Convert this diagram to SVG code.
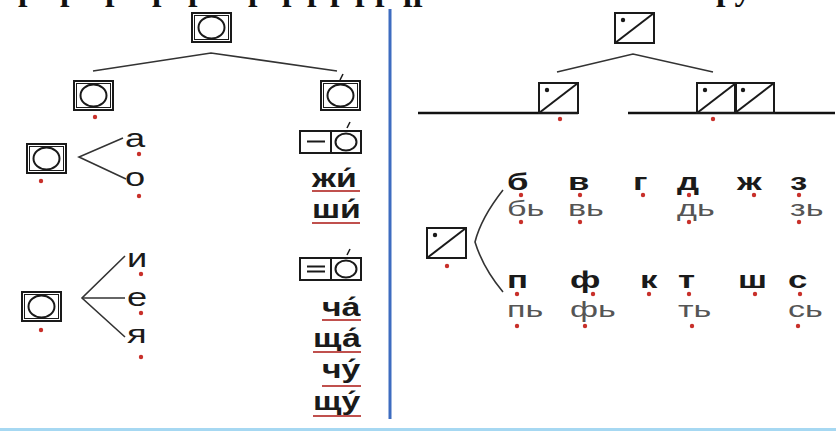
<svg xmlns="http://www.w3.org/2000/svg" width="836" height="432" viewBox="0 0 836 432">
<style>
  .ln{stroke:#333;stroke-width:1.6;fill:none}
  .base{stroke:#111;stroke-width:2.6;fill:none}
  .fr{fill:none;stroke:#1a1a1a;stroke-width:2}
  .thin{fill:none;stroke:#1a1a1a;stroke-width:1}
  .dot{fill:#c8302a}
  .ul{stroke:#c0504d;stroke-width:2}
  .t{font-family:"Liberation Sans",Arial,sans-serif;font-size:25px;fill:#1a1a1a}
  .b{font-weight:bold}
  .r1{font-size:24px}
  .soft{fill:#555;font-size:22px}
  .serif{font-family:"Liberation Serif","Times New Roman",serif;font-size:34px;font-weight:bold;fill:#111}
</style>
<defs>
  <g id="vowel">
    <rect x="0" y="0" width="39" height="29" class="fr"/>
    <rect x="2.5" y="2.5" width="34" height="24" class="thin"/>
    <ellipse cx="19.5" cy="14.5" rx="13" ry="11" class="fr"/>
  </g>
  <g id="cons">
    <rect x="0" y="0" width="39" height="30" class="fr"/>
    <line x1="0" y1="30" x2="39" y2="0" class="fr"/>
    <circle cx="8" cy="7" r="2.2" fill="#1a1a1a"/>
  </g>
  <circle id="rd" r="2.2" class="dot"/>
</defs>

<rect width="836" height="432" fill="#ffffff"/>

<!-- line of text above; only its descenders fall inside the page -->
<text class="serif" y="0" x="18 60 105 152 188 248 282 307 330 355 375 403 413 716">рррррррррррррру</text>

<!-- page frame lines -->
<line x1="390" y1="9" x2="390" y2="419" stroke="#3d6cc0" stroke-width="3"/>
<line x1="0" y1="429.5" x2="836" y2="429.5" stroke="#a6d8f2" stroke-width="3"/>

<g id="connectors">
  <!-- vowel tree -->
  <polyline class="ln" points="93,71 211,53 337,71"/>
  <polyline class="ln" points="123,138 79,157 126,179"/>
  <polyline class="ln" points="125,256 82,298 125,337"/>
  <line class="ln" x1="82" y1="298" x2="125" y2="298"/>
  <!-- consonant tree -->
  <polyline class="ln" points="557,72 633,54 713,72"/>
  <line class="base" x1="418" y1="113" x2="578" y2="113"/>
  <line class="base" x1="628" y1="113" x2="835" y2="113"/>
  <path class="ln" d="M503,190 Q481,218 475,242 Q483,268 503,292"/>
</g>

<!-- vowel side -->
<g id="vowel-root"><use href="#vowel" x="192" y="13"/></g>
<g id="vowel-hard">
  <use href="#vowel" x="74" y="81"/>
  <use href="#rd" x="95" y="117"/>
</g>
<g id="vowel-stressed">
  <use href="#vowel" x="321" y="81"/>
  <line x1="340" y1="80" x2="343" y2="74" stroke="#1a1a1a" stroke-width="1.6"/>
</g>

<g id="vowel-ao">
  <use href="#vowel" x="27" y="144"/>
  <use href="#rd" x="41" y="181"/>
  <text class="t" transform="translate(125,147) scale(1.45,1)">а</text>
  <use href="#rd" x="139" y="154"/>
  <text class="t" transform="translate(125,186) scale(1.45,1)">о</text>
  <use href="#rd" x="139" y="196"/>
</g>

<g id="vowel-iey">
  <use href="#vowel" x="22" y="292"/>
  <use href="#rd" x="41" y="330"/>
  <text class="t" transform="translate(127,267) scale(1.45,1)">и</text>
  <use href="#rd" x="141" y="274"/>
  <text class="t" transform="translate(127,306) scale(1.45,1)">е</text>
  <use href="#rd" x="141" y="313"/>
  <text class="t" transform="translate(127,343) scale(1.45,1)">я</text>
  <use href="#rd" x="141" y="357"/>
</g>

<g id="hush-hard">
  <rect x="300" y="131" width="61" height="22" class="fr"/>
  <line x1="331" y1="131" x2="331" y2="153" class="fr"/>
  <line x1="307" y1="141.5" x2="325" y2="141.5" class="fr"/>
  <ellipse cx="346" cy="142" rx="10.5" ry="8.5" class="fr"/>
  <line x1="347" y1="128" x2="350" y2="122" stroke="#1a1a1a" stroke-width="1.6"/>
  <text class="t b" transform="translate(312,187) scale(1.35,1)">жи́</text>
  <line class="ul" x1="312" y1="191" x2="360" y2="191"/>
  <text class="t b" transform="translate(312,218) scale(1.35,1)">ши́</text>
  <line class="ul" x1="312" y1="223" x2="360" y2="223"/>
</g>

<g id="hush-soft">
  <rect x="300" y="258" width="61" height="22" class="fr"/>
  <line x1="331" y1="258" x2="331" y2="280" class="fr"/>
  <line x1="307" y1="266.5" x2="325" y2="266.5" class="fr"/>
  <line x1="307" y1="271.5" x2="325" y2="271.5" class="fr"/>
  <ellipse cx="346" cy="269" rx="10.5" ry="8.5" class="fr"/>
  <line x1="347" y1="255" x2="350" y2="249" stroke="#1a1a1a" stroke-width="1.6"/>
  <text class="t b" transform="translate(322,316) scale(1.35,1)">ча́</text>
  <line class="ul" x1="322" y1="320" x2="361" y2="320"/>
  <text class="t b" transform="translate(313,347) scale(1.35,1)">ща́</text>
  <line class="ul" x1="313" y1="352" x2="361" y2="352"/>
  <text class="t b" transform="translate(322,378) scale(1.35,1)">чу́</text>
  <line class="ul" x1="322" y1="386" x2="361" y2="386"/>
  <text class="t b" transform="translate(313,410) scale(1.35,1)">щу́</text>
  <line class="ul" x1="313" y1="416" x2="361" y2="416"/>
</g>

<!-- consonant side -->
<g id="cons-root"><use href="#cons" x="615" y="13"/></g>
<g id="cons-single">
  <use href="#cons" x="539" y="83"/>
  <use href="#rd" x="560" y="119"/>
</g>
<g id="cons-double">
  <use href="#cons" x="697" y="83"/>
  <use href="#cons" x="735" y="83"/>
  <use href="#rd" x="713" y="119"/>
</g>
<g id="cons-pairs">
  <use href="#cons" x="427" y="228"/>
  <use href="#rd" x="447" y="266"/>
</g>

<g id="voiced">
  <text class="t b r1" transform="translate(507,190) scale(1.45,1)">б</text>
  <text class="t b r1" transform="translate(568,190) scale(1.45,1)">в</text>
  <text class="t b r1" transform="translate(633,190) scale(1.45,1)">г</text>
  <text class="t b r1" transform="translate(677,190) scale(1.45,1)">д</text>
  <text class="t b r1" transform="translate(737,190) scale(1.45,1)">ж</text>
  <text class="t b r1" transform="translate(790,190) scale(1.45,1)">з</text>
  <use href="#rd" x="521" y="195"/><use href="#rd" x="580" y="195"/>
  <use href="#rd" x="643" y="195"/><use href="#rd" x="689" y="195"/>
  <use href="#rd" x="754" y="195"/><use href="#rd" x="799" y="195"/>
  <text class="t soft" transform="translate(507,216) scale(1.55,1)">бь</text>
  <text class="t soft" transform="translate(568,216) scale(1.55,1)">вь</text>
  <text class="t soft" transform="translate(677,216) scale(1.55,1)">дь</text>
  <text class="t soft" transform="translate(790,216) scale(1.55,1)">зь</text>
  <use href="#rd" x="521" y="222"/><use href="#rd" x="580" y="222"/>
  <use href="#rd" x="689" y="222"/><use href="#rd" x="799" y="222"/>
</g>

<g id="voiceless">
  <text class="t b r1" transform="translate(507,288) scale(1.45,1)">п</text>
  <text class="t b r1" transform="translate(570,288) scale(1.45,1)">ф</text>
  <text class="t b r1" transform="translate(640,288) scale(1.45,1)">к</text>
  <text class="t b r1" transform="translate(678,288) scale(1.45,1)">т</text>
  <text class="t b r1" transform="translate(738,288) scale(1.45,1)">ш</text>
  <text class="t b r1" transform="translate(788,288) scale(1.45,1)">с</text>
  <use href="#rd" x="517" y="294"/><use href="#rd" x="593" y="294"/>
  <use href="#rd" x="649" y="294"/><use href="#rd" x="689" y="294"/>
  <use href="#rd" x="755" y="294"/><use href="#rd" x="800" y="294"/>
  <text class="t soft" transform="translate(507,317) scale(1.55,1)">пь</text>
  <text class="t soft" transform="translate(570,317) scale(1.55,1)">фь</text>
  <text class="t soft" transform="translate(678,317) scale(1.55,1)">ть</text>
  <text class="t soft" transform="translate(788,317) scale(1.55,1)">сь</text>
  <use href="#rd" x="517" y="326"/><use href="#rd" x="585" y="326"/>
  <use href="#rd" x="692" y="326"/><use href="#rd" x="798" y="326"/>
</g>
</svg>
